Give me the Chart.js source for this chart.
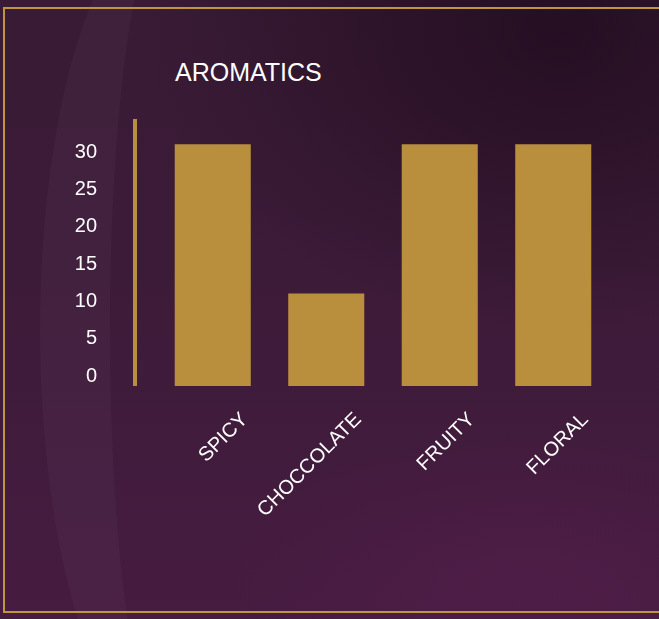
<!DOCTYPE html>
<html>
<head>
<meta charset="utf-8">
<script src="https://cdn.jsdelivr.net/npm/chart.js@4"></script>
<style>
  html, body { margin: 0; padding: 0; }
  body {
    width: 659px; height: 619px; overflow: hidden; position: relative;
    background:
      radial-gradient(ellipse 420px 300px at 85% 5%, rgba(30,10,28,0.75) 0%, rgba(30,10,28,0) 100%),
      radial-gradient(ellipse 300px 160px at 80% 95%, rgba(90,30,80,0.45) 0%, rgba(90,30,80,0) 100%),
      linear-gradient(180deg, #391b35 0%, #3c1b38 45%, #461c41 100%);
  }
  .swath {
    position: absolute; left: 40px; top: -80px; width: 260px; height: 820px;
    border-radius: 50%;
    border-left: 70px solid rgba(255,220,255,0.03);
    box-sizing: border-box;
  }
  .frame {
    position: absolute; left: 3px; top: 7px; width: 720px; height: 606px;
    border: 2px solid #c0953f; box-sizing: border-box;
  }
  .title {
    position: absolute; left: 175px; top: 60px;
    font-family: "Liberation Sans", Arial, sans-serif; font-size: 25px; line-height: 25px;
    color: #ffffff;
  }
  #wrap { position: absolute; left: 0; top: 0; width: 659px; height: 619px; }
</style>
</head>
<body>
<div class="swath"></div>
<div class="frame"></div>
<div class="title">AROMATICS</div>
<div id="wrap"><canvas id="c" width="659" height="619"></canvas></div>
<script>
const categories = ["SPICY", "CHOCCOLATE", "FRUITY", "FLORAL"];
const values = [32.4, 12.4, 32.4, 32.4];
const yTicks = [0, 5, 10, 15, 20, 25, 30];

const GOLD = '#b98f3e';

new Chart(document.getElementById('c'), {
  type: 'bar',
  data: {
    labels: categories,
    datasets: [{
      data: values,
      backgroundColor: GOLD,
      borderWidth: 0,
      categoryPercentage: 1,
      barPercentage: 0.67
    }]
  },
  options: {
    responsive: false,
    animation: false,
    devicePixelRatio: 1,
    layout: { padding: { left: 0, right: 49, top: 121, bottom: 0 } },
    plugins: { legend: { display: false }, tooltip: { enabled: false }, title: { display: false } },
    scales: {
      x: {
        grid: { display: false, drawTicks: false },
        border: { display: false },
        afterFit: s => { s.height = 233; },
        ticks: {
          color: '#ffffff',
          font: { family: '"Liberation Sans", Arial, sans-serif', size: 20 },
          minRotation: 45, maxRotation: 45,
          autoSkip: false,
          padding: 22,
          labelOffset: 32
        }
      },
      y: {
        position: 'left',
        weight: 1,
        min: 0, max: 35.5,
        afterFit: s => { s.width = 135; },
        afterBuildTicks: s => { s.ticks = yTicks.map(v => ({ value: v })); },
        grid: { display: false, drawTicks: false, lineWidth: 0 },
        border: { display: true, color: GOLD, width: 4 },
        ticks: {
          color: '#ffffff',
          font: { family: '"Liberation Sans", Arial, sans-serif', size: 20 },
          padding: 38,
          labelOffset: -10
        }
      },
      gap: {
        type: 'linear',
        position: 'left',
        weight: 0,
        min: 0, max: 1,
        afterFit: s => { s.width = 21; },
        grid: { display: false, drawTicks: false },
        border: { display: false },
        ticks: { display: false }
      }
    }
  }
});
</script>
</body>
</html>
